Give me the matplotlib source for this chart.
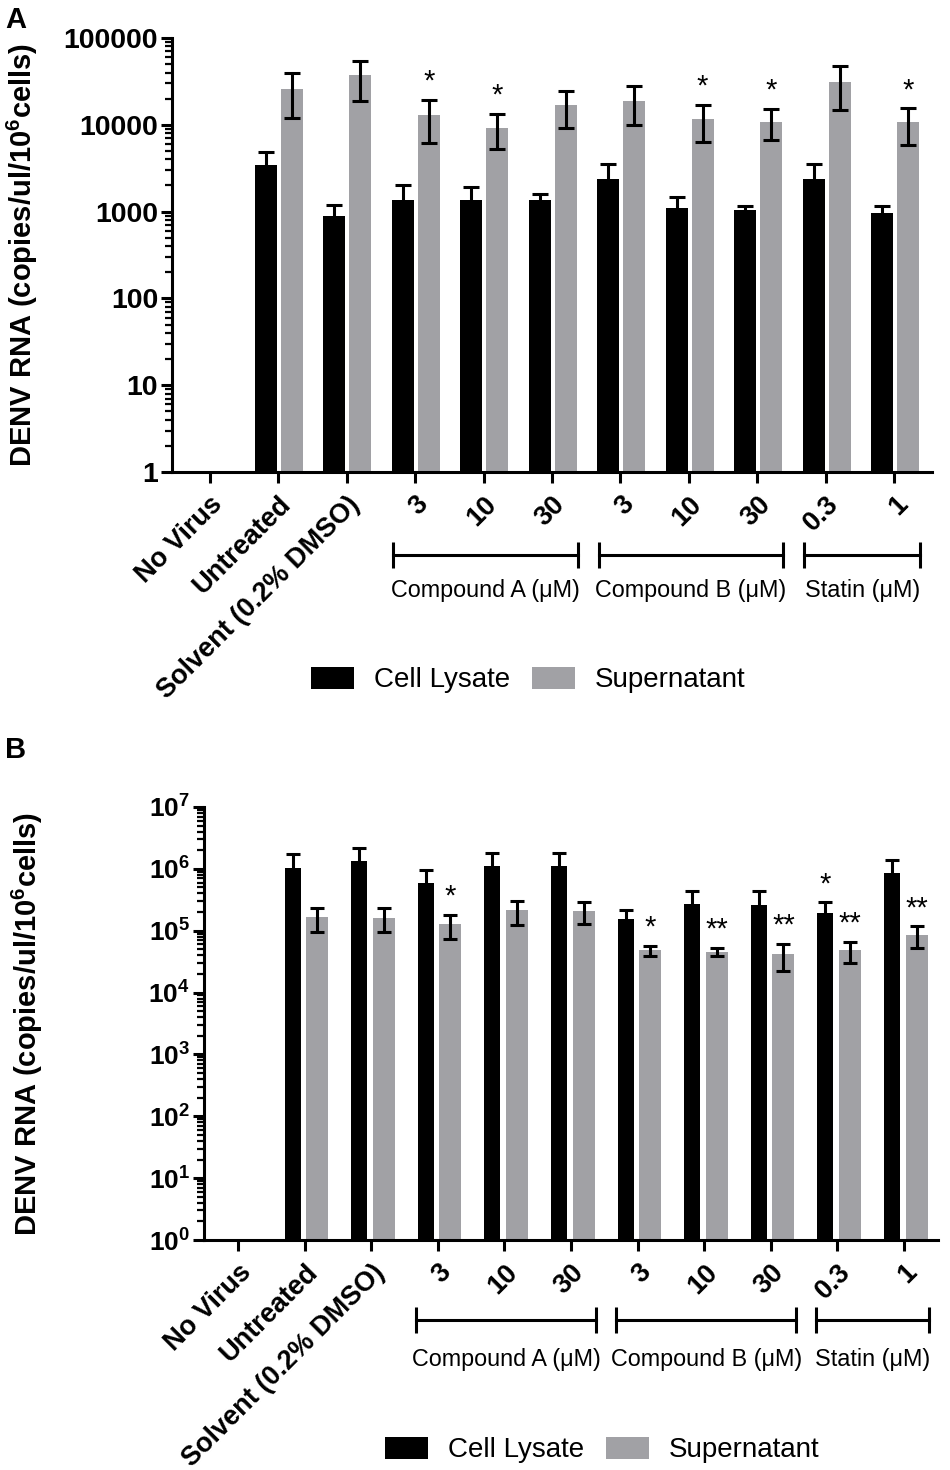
import numpy as np
import matplotlib
matplotlib.use('Agg')
import matplotlib.pyplot as plt
from matplotlib.patches import Patch
from matplotlib.ticker import FixedLocator, LogLocator, FuncFormatter, NullFormatter

plt.rcParams['font.family'] = ['Liberation Sans', 'DejaVu Sans']
plt.rcParams['mathtext.fontset'] = 'custom'
plt.rcParams['mathtext.rm'] = 'Liberation Sans'
plt.rcParams['mathtext.bf'] = 'Liberation Sans:bold'
plt.rcParams['mathtext.it'] = 'Liberation Sans:italic'

# ---------- DATOS ----------
categorias = ['No Virus', 'Untreated', 'Solvent (0.2% DMSO)',
              '3', '10', '30', '3', '10', '30', '0.3', '1']
grupos = ['Compound A (\u03bcM)', 'Compound B (\u03bcM)', 'Statin (\u03bcM)']
grupo_idx = [(3, 5), (6, 8), (9, 10)]

# Panel A
lisado_a = [np.nan, 3400, 880, 1370, 1370, 1370, 2400, 1110, 1050, 2400, 970]
lisado_a_err = [np.nan, 1500, 320, 630, 530, 230, 1100, 370, 120, 1150, 200]
sobren_a = [np.nan, 26000, 37000, 12800, 9300, 17000, 19000, 11700, 10900, 31500, 10700]
sobren_a_err = [np.nan, 14000, 18000, 6700, 4000, 7700, 9000, 5300, 4300, 16500, 4800]
estrellas_a_sob = {3: '*', 4: '*', 7: '*', 8: '*', 10: '*'}
estrellas_a_lis = {}

# Panel B
lisado_b = [np.nan, 1.03e6, 1.32e6, 6.0e5, 1.1e6, 1.13e6, 1.55e5, 2.75e5, 2.65e5, 1.9e5, 8.7e5]
lisado_b_err = [np.nan, 7.0e5, 8.8e5, 3.5e5, 7.0e5, 6.7e5, 6.0e4, 1.6e5, 1.7e5, 9.7e4, 5.4e5]
sobren_b = [np.nan, 1.67e5, 1.63e5, 1.27e5, 2.14e5, 2.1e5, 4.8e4, 4.56e4, 4.2e4, 4.8e4, 8.5e4]
sobren_b_err = [np.nan, 7.0e4, 6.7e4, 5.3e4, 9.0e4, 8.0e4, 8.5e3, 7.0e3, 2.0e4, 1.8e4, 3.3e4]
estrellas_b_sob = {3: '*', 6: '*', 7: '**', 8: '**', 9: '**', 10: '**'}
estrellas_b_lis = {9: '*'}

NEGRO = '#000000'
GRIS = '#a1a1a5'
W, H = 950, 1470


def panel(fig, rect, lis, lis_err, sob, sob_err, est_lis, est_sob,
          ylim, fmt, ytick_size, xlim, off_lis, w_lis, off_sob, w_sob, ylab_x,
          bracket_off, cap):
    ax = fig.add_axes(rect)
    x = np.arange(len(categorias))
    ax.bar(x + off_lis, lis, w_lis, color=NEGRO, zorder=2)
    ax.bar(x + off_sob, sob, w_sob, color=GRIS, zorder=2)
    ax.errorbar(x + off_lis, lis, yerr=lis_err, fmt='none', ecolor='black',
                elinewidth=2.2, capsize=cap, capthick=2.2, zorder=3)
    ax.errorbar(x + off_sob, sob, yerr=sob_err, fmt='none', ecolor='black',
                elinewidth=2.2, capsize=cap, capthick=2.2, zorder=3)
    for i, s in est_sob.items():
        ax.annotate(s, (x[i] + off_sob, sob[i] + sob_err[i]), xytext=(0, 3),
                    textcoords='offset points', ha='center', va='bottom', fontsize=21)
    for i, s in est_lis.items():
        ax.annotate(s, (x[i] + off_lis, lis[i] + lis_err[i]), xytext=(0, 3),
                    textcoords='offset points', ha='center', va='bottom', fontsize=21)

    ax.set_yscale('log')
    ax.set_ylim(*ylim)
    ax.set_xlim(*xlim)
    ax.yaxis.set_major_locator(FixedLocator([10 ** k for k in range(int(np.log10(ylim[0])), int(np.log10(ylim[1])) + 1)]))
    ax.yaxis.set_minor_locator(LogLocator(base=10, subs=np.arange(2, 10), numticks=20))
    ax.yaxis.set_major_formatter(FuncFormatter(fmt))
    ax.yaxis.set_minor_formatter(NullFormatter())
    ax.set_xticks(x)
    ax.set_xticklabels(categorias, rotation=45, ha='right', rotation_mode='anchor',
                       fontsize=19.5, fontweight='bold')
    for lbl in ax.get_yticklabels():
        lbl.set_fontweight('bold')
    ax.tick_params(axis='y', which='major', length=8, width=2.2, labelsize=ytick_size, pad=2)
    ax.tick_params(axis='y', which='minor', length=5, width=1.6)
    ax.tick_params(axis='x', length=8, width=2.2, pad=6)
    for s in ['top', 'right']:
        ax.spines[s].set_visible(False)
    for s in ['left', 'bottom']:
        ax.spines[s].set_linewidth(2.2)

    ax.set_ylabel('DENV RNA (copies/ul/10$^{\\mathbf{6}}$cells)', fontsize=21, fontweight='bold')
    ax.yaxis.set_label_coords(ylab_x, 0.5)

    # corchetes de grupos
    tr = ax.get_xaxis_transform()
    y_br, y_tx = bracket_off
    for (a, b), nombre in zip(grupo_idx, grupos):
        x0, x1 = a - 0.32, b + 0.38
        ax.plot([x0, x1], [y_br, y_br], color='black', lw=2.2, transform=tr, clip_on=False)
        for xx in (x0, x1):
            ax.plot([xx, xx], [y_br - 0.03, y_br + 0.03], color='black', lw=2.2,
                    transform=tr, clip_on=False, solid_capstyle='butt')
        ax.text((x0 + x1) / 2, y_tx, nombre, transform=tr, ha='center', va='center',
                fontsize=16.8)
    return ax


fig = plt.figure(figsize=(W / 100, H / 100), dpi=100)

panel(fig, [172 / W, 1 - 472 / H, 760 / W, 434 / H],
      lisado_a, lisado_a_err, sobren_a, sobren_a_err, estrellas_a_lis, estrellas_a_sob,
      (1, 1e5), lambda v, p: '%d' % round(v), 20.5, (-0.55, 10.55),
      -0.18, 0.32, 0.2, 0.32, -0.174, (-0.191, -0.272), 6)

panel(fig, [204 / W, 1 - 1240 / H, 734 / W, 433 / H],
      lisado_b, lisado_b_err, sobren_b, sobren_b_err, estrellas_b_lis, estrellas_b_sob,
      (1, 1e7), lambda v, p: '$\\mathbf{10^{%d}}$' % round(np.log10(v)), 19, (-0.51, 10.51),
      -0.18, 0.24, 0.19, 0.33, -0.217, (-0.185, -0.277), 5)

handles = [Patch(facecolor=NEGRO, edgecolor='none'), Patch(facecolor=GRIS, edgecolor='none')]
for cx, cy in [(528 / W, 1 - 680 / H), (602 / W, 1 - 1450 / H)]:
    fig.legend(handles, ['Cell Lysate', 'Supernatant'], loc='center', bbox_to_anchor=(cx, cy),
               ncol=2, frameon=False, fontsize=20, handlelength=1.55, handleheight=0.86,
               handletextpad=0.7, columnspacing=0.8)

fig.text(5 / W, 1 - 20 / H, 'A', fontsize=21, fontweight='bold', va='center', ha='left')
fig.text(5 / W, 1 - 750 / H, 'B', fontsize=21, fontweight='bold', va='center', ha='left')

fig.savefig('out.png', dpi=100)
